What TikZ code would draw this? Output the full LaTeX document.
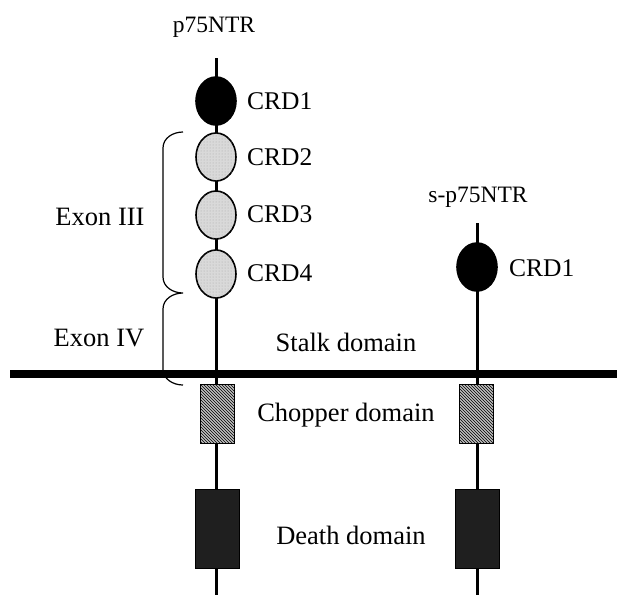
\documentclass[tikz,border=0pt]{standalone}
\usepackage{fontspec}
\setmainfont{Liberation Serif}
\usetikzlibrary{shapes.geometric,patterns}
\begin{document}
\begin{tikzpicture}[x=1pt,y=-1pt,
  stem/.style={line width=3pt},
  crd/.style={ellipse,draw,line width=1.6pt,minimum width=40pt,minimum height=48pt,inner sep=0pt},
  crddark/.style={crd,fill=black},
  crdlight/.style={crd,fill=black!15,postaction={pattern=dots,pattern color=black!35}},
  chop/.style={rectangle,draw,line width=1pt,minimum width=34pt,minimum height=59pt,inner sep=0pt,fill=black!25,postaction={pattern=north west lines,pattern color=black}},
  death/.style={rectangle,draw,line width=1pt,minimum width=44pt,minimum height=79pt,inner sep=0pt,fill=black!88},
  lbl/.style={font=\fontsize{26.5}{30}\selectfont,inner sep=0pt},
  crdlbl/.style={font=\fontsize{25.5}{30}\selectfont,inner sep=0pt,anchor=west},
  ttl/.style={font=\fontsize{23.5}{28}\selectfont,inner sep=0pt},
  brace/.style={line width=1.2pt}]
\useasboundingbox (0,0) rectangle (617,595);
% stems
\coordinate (topL) at (216,58);
\coordinate (botL) at (216,595);
\coordinate (topR) at (477,223);
\coordinate (botR) at (477,595);
\draw[stem] (topL) -- (botL);
\draw[stem] (topR) -- (botR);
% membrane
\coordinate (memL) at (10,374);
\coordinate (memR) at (617,374);
\draw[line width=8pt] (memL) -- (memR);
% left receptor
\node[crddark] (c1) at (216,101) {};
\node[crdlight] (c2) at (216,157) {};
\node[crdlight] (c3) at (216,215) {};
\node[crdlight] (c4) at (216,274) {};
\node[chop] (chL) at (217,413.5) {};
\node[death] (dL) at (217,528.5) {};
% right receptor
\node[crddark] (rc1) at (477,267) {};
\node[chop] (chR) at (476,413.5) {};
\node[death] (dR) at (477,528.5) {};
% labels
\node[ttl] (t1) at (214,27) {p75NTR};
\node[ttl] (t2) at (478,197) {s-p75NTR};
\node[crdlbl] (l1) at (247,101) {CRD1};
\node[crdlbl] (l2) at (247,157) {CRD2};
\node[crdlbl] (l3) at (247,214) {CRD3};
\node[crdlbl] (l4) at (247,273) {CRD4};
\node[crdlbl] (lr1) at (509,268) {CRD1};
\node[lbl] (ex3) at (100,217) {Exon III};
\node[lbl] (ex4) at (99,338) {Exon IV};
\node[lbl] (stalk) at (346,342) {Stalk domain};
\node[lbl] (chop) at (346,415) {Chopper domain};
\node[lbl] (dth) at (351,535) {Death domain};
% brace
\draw[brace] (183,132) to[out=180,in=90] (163,148) -- (163,277)
  to[out=-90,in=180] (183,293) to[out=180,in=90] (163,309) -- (163,369)
  to[out=-90,in=180] (183,385);
\end{tikzpicture}
\end{document}
